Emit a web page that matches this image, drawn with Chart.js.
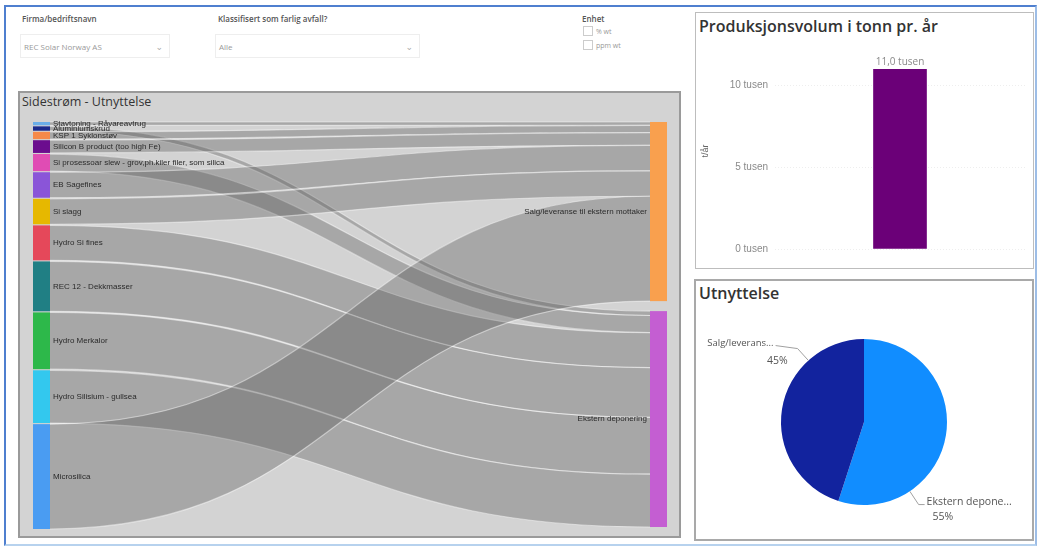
<!DOCTYPE html>
<html>
<head>
<meta charset="utf-8">
<title>Sidestrøm - Utnyttelse</title>
<script src="https://cdn.jsdelivr.net/npm/chart.js@4.4.1/dist/chart.umd.min.js"></script>
<style>
  body { margin: 0; background: #fff; font-family: 'Open Sans', 'DejaVu Sans', sans-serif; }
  #page { position: relative; width: 1041px; height: 547px; overflow: hidden; }
  .frame { position: absolute; left: 4px; top: 5px; width: 1029px; height: 537px;
           border: 2px solid #4f7fcf; border-bottom-color: #b7d2ee; border-right-color: #9dbde6; }
  .lbl { position: absolute; font-size: 8px; font-weight: 600; color: #555; white-space: nowrap; }
  .drop { position: absolute; height: 24px; border: 1px solid #eeeeee; font-size: 8px; color: #999;
          line-height: 24px; padding-left: 3px; box-sizing: border-box; }
  .drop span { position: absolute; right: 6px; top: 0; color: #aaa; font-size: 9px; }
  .chk { position: absolute; font-size: 7px; color: #999; white-space: nowrap; }
  .chk i { display: inline-block; width: 8px; height: 8px; border: 1px solid #ccc; margin-right: 3px; vertical-align: -2px; }
  .panel { position: absolute; background: #fff; border: 1px solid #bdbdbd; box-sizing: border-box; }
  .title { position: absolute; color: #333; white-space: nowrap; }
  canvas { position: absolute; }
</style>
</head>
<body>
<div id="page">
  <div class="frame"></div>

  <div class="lbl" style="left:22px; top:13px;">Firma/bedriftsnavn</div>
  <div class="drop" style="left:20px; top:34px; width:150px;">REC Solar Norway AS<span>&#8964;</span></div>
  <div class="lbl" style="left:218px; top:13px;">Klassifisert som farlig avfall?</div>
  <div class="drop" style="left:215px; top:34px; width:205px;">Alle<span>&#8964;</span></div>
  <div class="lbl" style="left:582px; top:13px;">Enhet</div>
  <div class="chk" style="left:583px; top:26px;"><i></i>% wt</div>
  <div class="chk" style="left:583px; top:40px;"><i></i>ppm wt</div>

  <div class="panel" style="left:18px; top:91px; width:663px; height:447px; background:#d3d3d3; border:2px solid #9a9a9a;"></div>
  <div class="title" style="left:22px; top:93px; font-size:12.5px;">Sidestrøm - Utnyttelse</div>
  <canvas id="sankeyChart" style="left:19px; top:112px;" width="661" height="424"></canvas>

  <div class="panel" style="left:695px; top:12px; width:339px; height:257px;"></div>
  <div class="title" style="left:699px; top:15px; font-size:16px; font-weight:600;">Produksjonsvolum i tonn pr. år</div>
  <canvas id="barChart" style="left:696px; top:40px;" width="336" height="222"></canvas>

  <div class="panel" style="left:694px; top:279px; width:340px; height:262px; border:2px solid #a9a9a9;"></div>
  <div class="title" style="left:699px; top:282px; font-size:16px; font-weight:600;">Utnyttelse</div>
  <canvas id="pieChart" style="left:696px; top:305px;" width="336" height="233"></canvas>
</div>

<script>
// sidestrømmer (tonn pr. år), lest av figuren
const sankeySources = [
  'Stavtoning - Råvareavtrug',
  'Aluminiumskrud',
  'KSP 1 Syklonstøv',
  'Silicon B product (too high Fe)',
  'Si prosessoar slew - grov,ph.kiler filer, som silica',
  'EB Sagefines',
  'Si slagg',
  'Hydro Si fines',
  'REC 12 - Dekkmasser',
  'Hydro Merkalor',
  'Hydro Silisium - gullsea',
  'Microsilica'
];
const sankeyValues = [90, 120, 200, 350, 470, 700, 700, 960, 1370, 1560, 1450, 2880];
const sankeyTargets = ['Salg/leveranse til ekstern mottaker', 'Ekstern deponering'];
// hvilket mål hver kilde går til (indeks i sankeyTargets)
const sankeyFlowTarget = [0, 1, 0, 0, 1, 0, 0, 1, 1, 1, 1, 0];

const sourceColors = ['#6aaee8', '#1b2a8c', '#f5894a', '#6b0d8e', '#e04cb4', '#8a55d8',
                      '#e6b800', '#e5485a', '#207f84', '#2db84a', '#33c8ee', '#4a9cf2'];
const targetColors = ['#f9a04e', '#c45ed2'];

const productionLabels = ['Produksjonsvolum'];
const productionValues = [11000];
const productionTicks = [0, 5000, 10000];

const utnyttelseLabels = ['Ekstern deponering', 'Salg/leveranse til ekstern mottaker'];
const utnyttelseShares = [55, 45];

const nodeW = 17;
const sourceGap = 30;
const targetGap = 275;

const sourceSpan = sankeyValues.reduce((a, b) => a + b, 0) + sourceGap * (sankeyValues.length - 1);

const sankeyPlugin = {
  id: 'sankey',
  afterDatasetsDraw(chart) {
    const { ctx, scales: { x, y } } = chart;

    let acc = 0;
    const src = sankeyValues.map(v => {
      const n = { y0: acc, y1: acc + v };
      acc += v + sourceGap;
      return n;
    });

    const totals = sankeyTargets.map((t, j) =>
      sankeyValues.filter((v, i) => sankeyFlowTarget[i] === j).reduce((a, b) => a + b, 0));
    let acc2 = 0;
    const tgt = totals.map(v => {
      const n = { y0: acc2, y1: acc2 + v, fill: acc2 };
      acc2 += v + targetGap;
      return n;
    });

    const x0 = x.getPixelForValue(0) + nodeW;
    const x1 = x.getPixelForValue(1) - nodeW;
    const xm = (x0 + x1) / 2;

    const links = sankeyValues.map((v, i) => {
      const t = tgt[sankeyFlowTarget[i]];
      const l = { s0: src[i].y0, s1: src[i].y1, t0: t.fill, t1: t.fill + v };
      t.fill += v;
      return l;
    });

    ctx.save();
    links.forEach(l => {
      const sy0 = y.getPixelForValue(l.s0), sy1 = y.getPixelForValue(l.s1);
      const ty0 = y.getPixelForValue(l.t0), ty1 = y.getPixelForValue(l.t1);
      ctx.beginPath();
      ctx.moveTo(x0, sy0);
      ctx.bezierCurveTo(xm, sy0, xm, ty0, x1, ty0);
      ctx.lineTo(x1, ty1);
      ctx.bezierCurveTo(xm, ty1, xm, sy1, x0, sy1);
      ctx.closePath();
      ctx.fillStyle = 'rgba(74,74,74,0.32)';
      ctx.fill();

      ctx.strokeStyle = 'rgba(255,255,255,0.45)';
      ctx.lineWidth = 1.2;
      ctx.beginPath();
      ctx.moveTo(x0, sy0);
      ctx.bezierCurveTo(xm, sy0, xm, ty0, x1, ty0);
      ctx.stroke();
      ctx.beginPath();
      ctx.moveTo(x0, sy1);
      ctx.bezierCurveTo(xm, sy1, xm, ty1, x1, ty1);
      ctx.stroke();
    });

    // noder
    src.forEach((n, i) => {
      const top = y.getPixelForValue(n.y0), bot = y.getPixelForValue(n.y1);
      ctx.fillStyle = sourceColors[i];
      ctx.fillRect(x0 - nodeW, top, nodeW, Math.max(bot - top, 1.5));
    });
    tgt.forEach((n, j) => {
      const top = y.getPixelForValue(n.y0), bot = y.getPixelForValue(n.y1);
      ctx.fillStyle = targetColors[j];
      ctx.fillRect(x1, top, nodeW, bot - top);
    });

    ctx.font = '8px "Liberation Sans", Arial, sans-serif';
    ctx.fillStyle = '#2a2a2a';
    ctx.textBaseline = 'middle';
    ctx.textAlign = 'left';
    src.forEach((n, i) => {
      const yc = y.getPixelForValue((n.y0 + n.y1) / 2);
      ctx.fillText(sankeySources[i], x0 + 3, yc);
    });
    ctx.textAlign = 'right';
    tgt.forEach((n, j) => {
      const yc = y.getPixelForValue((n.y0 + n.y1) / 2);
      ctx.fillText(sankeyTargets[j], x1 - 3, yc);
    });
    ctx.restore();
  }
};

new Chart(document.getElementById('sankeyChart'), {
  type: 'scatter',
  data: { datasets: [{ data: [] }] },
  options: {
    responsive: false,
    animation: false,
    layout: { padding: { left: 14, right: 13, top: 10, bottom: 7 } },
    scales: {
      x: { type: 'linear', min: 0, max: 1, display: false },
      y: { type: 'linear', min: 0, max: sourceSpan, reverse: true, display: false }
    },
    plugins: { legend: { display: false }, tooltip: { enabled: false } }
  },
  plugins: [sankeyPlugin]
});

const tusen = v => (v / 1000).toLocaleString('nb-NO') + ' tusen';

const barLabelPlugin = {
  id: 'barLabel',
  afterDatasetsDraw(chart) {
    const { ctx } = chart;
    chart.getDatasetMeta(0).data.forEach((bar, i) => {
      const v = chart.data.datasets[0].data[i];
      ctx.save();
      ctx.font = '10px "Open Sans", sans-serif';
      ctx.fillStyle = '#8a8a8a';
      ctx.textAlign = 'center';
      ctx.textBaseline = 'bottom';
      ctx.fillText((v / 1000).toFixed(1).replace('.', ',') + ' tusen', bar.x, bar.y - 2);
      ctx.restore();
    });
  }
};

new Chart(document.getElementById('barChart'), {
  type: 'bar',
  data: {
    labels: productionLabels,
    datasets: [{ data: productionValues, backgroundColor: '#6b0078', barThickness: 53 }]
  },
  options: {
    responsive: false,
    animation: false,
    layout: { padding: { top: 7, right: 7, bottom: 7 } },
    scales: {
      x: { display: false },
      y: {
        min: 0,
        max: 12000,
        afterBuildTicks: s => { s.ticks = productionTicks.map(v => ({ value: v })); },
        afterFit: s => { s.width = 79; },
        ticks: { callback: v => tusen(v), color: '#8a8a8a', font: { size: 10 }, padding: 7 },
        grid: { color: '#eeeeee', drawTicks: false },
        border: { display: false, dash: [1, 2] },
        title: { display: true, text: 't/år', color: '#666', font: { size: 9 } }
      }
    },
    plugins: { legend: { display: false }, tooltip: { enabled: false } }
  },
  plugins: [barLabelPlugin]
});

const pieLabelPlugin = {
  id: 'pieLabel',
  afterDraw(chart) {
    const { ctx } = chart;
    const data = chart.data.datasets[0].data;
    const total = data.reduce((a, b) => a + b, 0);
    chart.getDatasetMeta(0).data.forEach((arc, i) => {
      const a = arc.startAngle + 0.74 * (arc.endAngle - arc.startAngle);
      const r = arc.outerRadius;
      const px = arc.x + Math.cos(a) * r, py = arc.y + Math.sin(a) * r;
      const ex = arc.x + Math.cos(a) * (r + 16), ey = arc.y + Math.sin(a) * (r + 16);
      const right = Math.cos(a) > 0;
      const hx = right ? ex + 6 : ex - 22;

      ctx.save();
      ctx.strokeStyle = '#a0a0a0';
      ctx.lineWidth = 1;
      ctx.beginPath();
      ctx.moveTo(px, py);
      ctx.lineTo(ex, ey);
      ctx.lineTo(hx, ey - (right ? 0 : 3));
      ctx.stroke();

      ctx.font = (right ? '10.5px' : '9.5px') + ' "Open Sans", sans-serif';
      ctx.fillStyle = '#555';
      ctx.textBaseline = 'middle';
      let name = chart.data.labels[i];
      const maxW = right ? 88 : 70;
      if (ctx.measureText(name).width > maxW) {
        while (ctx.measureText(name + '...').width > maxW) name = name.slice(0, -1);
        name += '...';
      }
      const pct = Math.round(data[i] / total * 100) + '%';
      if (right) {
        ctx.textAlign = 'left';
        ctx.fillText(name, hx + 2, ey - 3);
        ctx.fillText(pct, hx + 8, ey + 12);
      } else {
        ctx.textAlign = 'right';
        ctx.fillText(name, hx - 2, ey - 5);
        ctx.font = '10.5px "Open Sans", sans-serif';
        ctx.fillText(pct, ex - 10, ey + 12);
      }
      ctx.restore();
    });
  }
};

new Chart(document.getElementById('pieChart'), {
  type: 'pie',
  data: {
    labels: utnyttelseLabels,
    datasets: [{ data: utnyttelseShares, backgroundColor: ['#118dff', '#12239e'], borderWidth: 0 }]
  },
  options: {
    responsive: false,
    animation: false,
    layout: { padding: { top: 34, bottom: 33 } },
    plugins: { legend: { display: false }, tooltip: { enabled: false } }
  },
  plugins: [pieLabelPlugin]
});
</script>
</body>
</html>
